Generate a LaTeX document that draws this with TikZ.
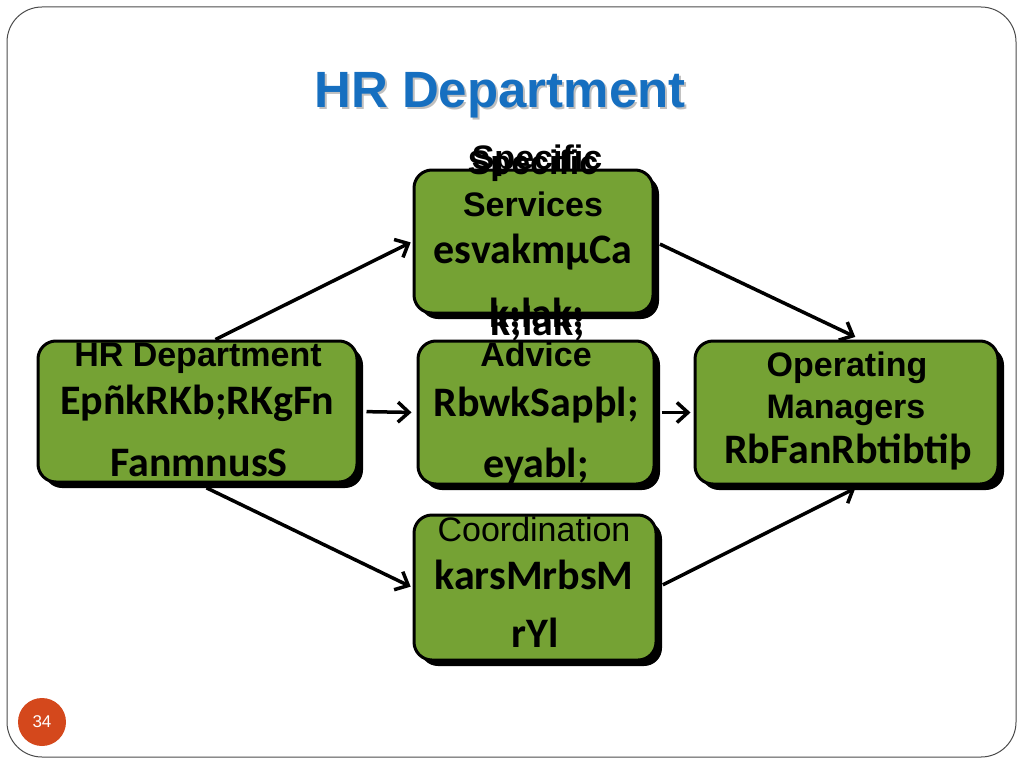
\documentclass[tikz,border=0pt]{standalone}
\usepackage{fontspec}
\setmainfont{Liberation Sans}
\newfontfamily\legacy{Carlito}
\usetikzlibrary{shadows,arrows.meta}
\definecolor{boxgreen}{RGB}{117,162,52}
\definecolor{titleblue}{RGB}{22,111,192}
\definecolor{pageorange}{RGB}{212,72,28}

\begin{document}
\begin{tikzpicture}[
      x=1pt, y=-1pt,
      box/.style={draw=black, line width=3pt, fill=boxgreen, rounded corners=18pt,
        inner sep=0pt, drop shadow={shadow xshift=6pt, shadow yshift=-6pt, fill=black, opacity=1}},
      eng/.style={anchor=base, inner sep=0pt, font=\fontsize{34}{38}\selectfont\bfseries},
      kh/.style={anchor=base, inner sep=0pt, font=\fontsize{42}{46}\legacy\bfseries},
      link/.style={-{Straight Barb[length=11pt,width=20pt]}, line width=3.5pt},
    ]
    \useasboundingbox (0,0) rectangle (1024,768);
    \draw[black!70, line width=1pt, rounded corners=35pt] (7,7) rectangle (1016,757);

    % title
    \node[text=black!25, font=\fontsize{51}{56}\selectfont\bfseries] (titleb) at (502,97) {HR Department};
    \node[text=titleblue, font=\fontsize{51}{56}\selectfont\bfseries] (title) at (500,95) {HR Department};

    % boxes
    \node[box, minimum width=319pt, minimum height=141pt] (hr) at (197.5,411.5) {};
    \node[box, minimum width=239pt, minimum height=143pt] (svc) at (533.5,241.5) {};
    \node[box, minimum width=236pt, minimum height=143pt] (adv) at (536,412.5) {};
    \node[box, minimum width=242pt, minimum height=145pt] (crd) at (535,587.5) {};
    \node[box, minimum width=303pt, minimum height=143pt] (opm) at (846.5,412.5) {};

    % arrows
    \draw[link, shorten >=2pt] (hr.76) -- (svc.west);
    \draw[link, shorten <=8pt, shorten >=5pt] (hr.east) -- (adv.west);
    \draw[link, shorten <=10pt, shorten >=2pt] (hr.south) -- (crd.west);
    \draw[link, shorten <=6pt, shorten >=6pt] (svc.east) -- (opm.79);
    \draw[link, shorten <=6pt, shorten >=3pt] (adv.east) -- (opm.west);
    \draw[link, shorten <=6pt, shorten >=6pt] (crd.east) -- (opm.-79);

    % HR Department
    \node[eng] (hr1) at (198,366) {HR Department};
    \node[kh] (hr2) at (197,414) {EpñkRKb;RKgFn};
    \node[kh] (hr3) at (199,476) {FanmnusS};

    % specific services
    \node[eng] (svc1) at (533,174) {Specific};
    \node[eng] (svc1b) at (537,169) {Specific};
    \node[eng] (svc2) at (533,216) {Services};
    \node[kh] (svc3) at (533,263) {esvakmµCa};
    \node[kh] (svc4) at (537,327) {k;lak;};
    \node[kh] (svc4b) at (538,335) {k;lak;};

    % advice
    \node[eng] (adv1) at (536,366) {Advice};
    \node[kh] (adv2) at (536,416) {RbwkSapþl;};
    \node[kh] (adv3) at (536,477) {eyabl;};

    % coordination
    \node[anchor=base, inner sep=0pt, font=\fontsize{34}{38}\selectfont] (crd1) at (534,541) {Coordination};
    \node[kh] (crd2) at (534,589) {karsMrbsM};
    \node[kh] (crd3) at (535,647) {rYl};

    % operating managers
    \node[eng] (opm1) at (847,376) {Operating};
    \node[eng] (opm2) at (846,418) {Managers};
    \node[kh] (opm3) at (848,463) {RbFanRbtibtiþ};

    % page number
    \node[circle, fill=pageorange, minimum size=48pt, inner sep=0pt, text=white,
      font=\fontsize{17}{20}\selectfont] (page) at (42,722) {34};
\end{tikzpicture}
\end{document}
